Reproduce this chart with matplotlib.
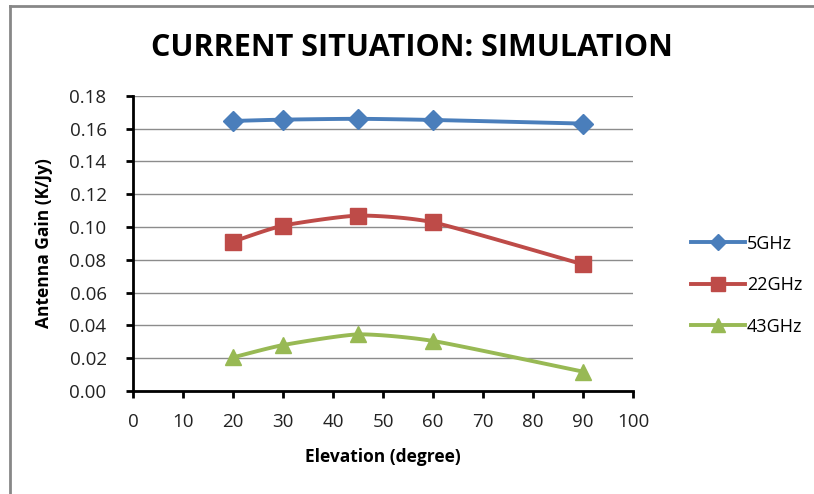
import numpy as np
import matplotlib
matplotlib.use("Agg")
import matplotlib.pyplot as plt
from matplotlib.lines import Line2D

# Data
elevation = [20, 30, 45, 60, 90]
gain_5ghz = [0.1646, 0.1654, 0.1659, 0.1652, 0.1630]
gain_22ghz = [0.0911, 0.1008, 0.1069, 0.1028, 0.0772]
gain_43ghz = [0.0205, 0.0280, 0.0345, 0.0305, 0.0118]
series_names = ["5GHz", "22GHz", "43GHz"]
x_ticks = [0, 10, 20, 30, 40, 50, 60, 70, 80, 90, 100]
y_ticks = [0.00, 0.02, 0.04, 0.06, 0.08, 0.10, 0.12, 0.14, 0.16, 0.18]


def smooth(xs, ys, n=30):
    # Catmull-Rom curve through the points (like Excel smoothed lines)
    xs = np.asarray(xs, float)
    ys = np.asarray(ys, float)
    px = np.concatenate([[2 * xs[0] - xs[1]], xs, [2 * xs[-1] - xs[-2]]])
    py = np.concatenate([[2 * ys[0] - ys[1]], ys, [2 * ys[-1] - ys[-2]]])
    outx, outy = [], []
    t = np.linspace(0, 1, n)
    for i in range(1, len(px) - 2):
        for p, out in ((px, outx), (py, outy)):
            p0, p1, p2, p3 = p[i - 1], p[i], p[i + 1], p[i + 2]
            m1 = (p2 - p0) / 2 * 0.6
            m2 = (p3 - p1) / 2 * 0.6
            h00 = 2 * t**3 - 3 * t**2 + 1
            h10 = t**3 - 2 * t**2 + t
            h01 = -2 * t**3 + 3 * t**2
            h11 = t**3 - t**2
            out.extend(h00 * p1 + h10 * m1 + h01 * p2 + h11 * m2)
    return outx, outy


plt.rcParams["font.family"] = ["Open Sans", "DejaVu Sans"]

fig = plt.figure(figsize=(8.14, 4.94), dpi=100)
ax = fig.add_axes([0.1634, 0.2085, 0.6143, 0.5978])

colors = ["#4a7ebb", "#be4b48", "#98b954"]
markers = ["D", "s", "^"]
msizes = [10, 12, 12]
handles = []
for vals, name, c, m, ms in zip([gain_5ghz, gain_22ghz, gain_43ghz], series_names,
                                colors, markers, msizes):
    sx, sy = smooth(elevation, vals)
    ax.plot(sx, sy, color=c, lw=2.8, zorder=3)
    ax.plot(elevation, vals, linestyle="none", marker=m, markersize=ms,
            color=c, zorder=4)
    handles.append(Line2D([], [], color=c, lw=2.8, marker=m, markersize=ms * 0.85))

ax.set_xlim(0, 100)
ax.set_ylim(0, 0.18)
ax.set_xticks(x_ticks)
ax.set_yticks(y_ticks)
ax.set_yticklabels([f"{v:.2f}" for v in y_ticks])
ax.grid(axis="y", color="#8c8c8c", lw=1)
ax.set_axisbelow(True)
for s in ["top", "right"]:
    ax.spines[s].set_visible(False)
for s in ["left", "bottom"]:
    ax.spines[s].set_linewidth(2)
ax.tick_params(axis="both", direction="out", length=5, width=2,
               labelsize=13.5, colors="black", labelcolor="#222222")
ax.tick_params(axis="y", pad=14)
ax.tick_params(axis="x", pad=11)

ax.set_xlabel("Elevation (degree)", fontsize=12.5, fontweight="bold", labelpad=12)
ax.set_ylabel("Antenna Gain (K/Jy)", fontsize=12.5, fontweight="bold", labelpad=12)

fig.text(0.506, 0.902, "CURRENT SITUATION: SIMULATION", ha="center", va="center",
         fontsize=22, fontweight="bold")

fig.legend(handles, series_names, loc="center left", bbox_to_anchor=(0.829, 0.423),
           frameon=False, fontsize=13, handlelength=3, handletextpad=0.1,
           labelspacing=1.3)

# outer chart border (top and left visible)
fig.add_artist(Line2D([0.012, 0.999], [0.988, 0.988], transform=fig.transFigure,
                      color="#878787", lw=2))
fig.add_artist(Line2D([0.012, 0.012], [0.0, 0.988], transform=fig.transFigure,
                      color="#878787", lw=2))

fig.savefig("out.png", dpi=100)
